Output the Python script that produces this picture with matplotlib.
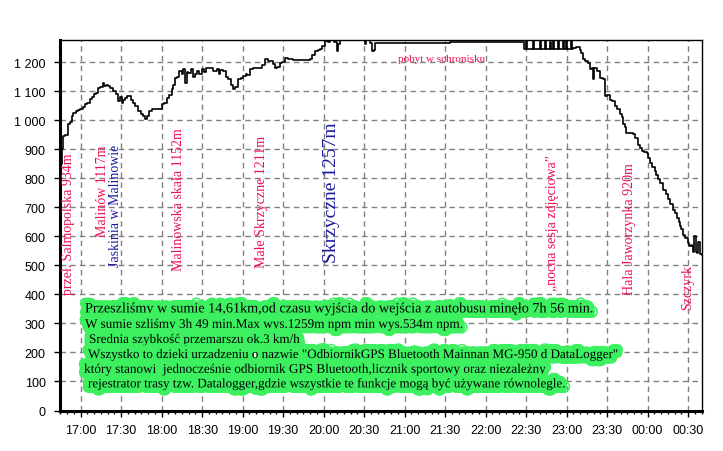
import matplotlib
matplotlib.use("Agg")
import matplotlib.pyplot as plt
import matplotlib.patheffects as pe
from matplotlib.ticker import FixedLocator, MultipleLocator, FuncFormatter

# ---------------- data ----------------
# elevation profile: minutes after 17:00, elevation [m]
profile_min = [
    -15.5, -15.0, -14.6, -14.0, -13.1, -11.5, -9.6, -8.0, -6.7, -5.5, -3.7, -2.0, -0.5, 1.5, 3.2, 5.0,
    6.9, 8.5, 10.1, 11.5, 13.0, 14.5, 16.7, 17.5, 19.0, 20.4, 22.0, 24.1, 25.5, 26.5, 27.9, 29.0,
    30.4, 31.5, 32.8, 34.0, 35.8, 37.5, 39.0, 40.5, 42.7, 44.5, 46.4, 47.5, 48.9, 50.5, 52.6, 55.0,
    57.5, 60.0, 62.0, 63.7, 65.5, 67.4, 68.5, 69.9, 71.5, 72.5, 73.6, 75.0, 76.0, 77.3, 78.5, 79.7,
    81.5, 83.0, 84.7, 86.0, 87.5, 89.6, 91.0, 92.5, 95.8, 98.0, 100.7, 102.5, 103.5, 105.6, 107.5,
    109.5, 111.0, 113.0, 114.5, 116.7, 118.5, 120.4, 122.5, 123.5, 125.4, 128.0, 130.0, 132.8, 134.0,
    136.5, 138.5, 141.5, 142.5, 143.9, 145.5, 147.6, 149.0, 151.3, 153.5, 157.5, 160.0, 162.4, 166.0,
    169.8, 171.5, 173.6, 175.5, 177.3, 179.0, 181.0, 183.0, 185.0, 187.5, 189.6, 191.0, 192.1, 195.0,
    200.0, 205.0, 209.5, 210.6, 211.5, 213.0, 214.5, 215.6, 217.0, 218.0, 219.3, 273.6, 274.0, 327.9,
    328.5, 329.5, 330.1, 331.0, 335.0, 336.0, 340.0, 341.0, 343.7, 344.6, 347.4, 348.2, 349.8, 350.6,
    353.5, 354.4, 357.2, 358.0, 359.7, 360.5, 363.4, 364.2, 364.9, 367.0, 369.9, 371.0, 372.3, 374.0,
    376.0, 377.3, 379.0, 379.7, 380.3, 381.0, 382.5, 384.7, 386.0, 387.1, 388.4, 390.0, 392.1, 394.0,
    395.8, 397.5, 399.5, 401.0, 401.9, 403.0, 404.4, 407.0, 409.3, 411.0, 413.0, 414.5, 415.6, 417.5,
    419.3, 420.5, 421.7, 423.5, 425.4, 426.5, 427.9, 429.5, 431.6, 433.5, 435.3, 437.0, 439.0, 440.0,
    441.5, 443.0, 444.0, 445.0, 446.4, 448.0, 450.1, 451.0, 452.0, 452.7, 453.5, 454.5, 455.1, 455.8,
    456.4, 457.5, 458.5, 460.1,
]
profile_elev = [
    880, 905, 850, 900, 945, 948, 985, 992, 1014, 1025, 1031, 1035, 1039, 1045, 1055, 1060,
    1072, 1080, 1090, 1095, 1111, 1115, 1129, 1118, 1120, 1117, 1110, 1100, 1100, 1090, 1066, 1080,
    1060, 1070, 1077, 1083, 1083, 1070, 1060, 1050, 1031, 1020, 1014, 1005, 1014, 1030, 1037, 1037,
    1039, 1054, 1060, 1077, 1085, 1106, 1120, 1146, 1150, 1170, 1169, 1160, 1175, 1129, 1165, 1163,
    1175, 1150, 1158, 1170, 1160, 1175, 1165, 1180, 1180, 1170, 1175, 1160, 1172, 1169, 1150,
    1140, 1120, 1108, 1115, 1140, 1145, 1152, 1160, 1155, 1175, 1178, 1178, 1180, 1190,
    1209, 1205, 1203, 1195, 1180, 1183, 1198, 1200, 1215, 1210, 1207, 1207, 1207, 1208,
    1211, 1225, 1238, 1240, 1244, 1255, 1272, 1268, 1275, 1270, 1238, 1262, 1276, 1275,
    1275, 1275, 1275, 1262, 1275, 1275, 1265, 1238, 1240, 1266, 1266, 1266, 1268, 1268,
    1245, 1244, 1272, 1244, 1272, 1244, 1274, 1244, 1272, 1244, 1270, 1244, 1274, 1244,
    1272, 1244, 1274, 1244, 1272, 1244, 1274, 1244, 1250, 1252, 1241, 1230, 1209, 1205,
    1198, 1175, 1180, 1140, 1180, 1180, 1170, 1146, 1146, 1140, 1083, 1085, 1071, 1065,
    1048, 1040, 1020, 1010, 985, 975, 956, 955, 951, 940, 916, 905, 893, 890,
    887, 870, 853, 840, 824, 810, 796, 785, 761, 745, 727, 710, 692, 680,
    663, 650, 634, 625, 606, 595, 577, 565, 570, 566, 545, 600, 600, 545,
    542, 580, 540, 537,
]

x_tick_labels = ["17:00", "17:30", "18:00", "18:30", "19:00", "19:30", "20:00", "20:30",
                 "21:00", "21:30", "22:00", "22:30", "23:00", "23:30", "00:00", "00:30"]
y_ticks = [0, 100, 200, 300, 400, 500, 600, 700, 800, 900, 1000, 1100, 1200]

place_names = ["przeł. Salmopolska 934m", "Malinów 1117m", "Jaskinia w Malinowie",
               "Malinowska skała 1152m", "Małe Skrzyczne 1211m", "Skrzyczne 1257m",
               "„nocna sesja zdjęciowa”", "Hala Jaworzynka 920m", "Szczyrk"]
stay_note = "pobyt w schronisku"
summary_lines = [
    "Przeszliśmy w sumie 14,61km,od czasu wyjścia do wejścia z autobusu minęło 7h 56 min.",
    "W sumie szliśmy 3h 49 min.Max wys.1259m npm min wys.534m npm.",
    " Srednia szybkość przemarszu ok.3 km/h",
    " Wszystko to dzięki urządzeniu o nazwie \"OdbiornikGPS Bluetooth Mainnan MG-950 d DataLogger\"",
    "który stanowi  jednocześnie odbiornik GPS Bluetooth,licznik sportowy oraz niezależny",
    " rejestrator trasy tzw. Datalogger,gdzie wszystkie te funkcje mogą być używane równolegle.",
]

# ---------------- layout / style ----------------
RED = "#EE1050"
BLUE = "#1A1AA0"
SERIF = ["Liberation Serif", "DejaVu Serif"]
SANS = ["Liberation Sans Narrow", "Liberation Sans", "DejaVu Sans"]

name_pos = [(-9.4, 645), (15.8, 759), (26.1, 707), (72.1, 728), (134.3, 721),
            (186.1, 755), (349.9, 648), (406.9, 628), (449.9, 428)]
name_col = [RED, RED, BLUE, RED, RED, BLUE, RED, RED, RED]
name_size = [10, 10, 10, 10, 10, 14, 10, 10, 10]

fig = plt.figure(figsize=(7.23, 4.52), dpi=100)
ax = fig.add_axes([0.0823, 0.0896, 0.9705 - 0.0823, 0.9093 - 0.0896])

ax.plot(profile_min, profile_elev, color="black", lw=1.2, drawstyle="steps-post", zorder=3)

ax.set_xlim(-15.7, 460.1)
ax.set_ylim(0, 1276)

ax.xaxis.set_major_locator(FixedLocator([30 * i for i in range(len(x_tick_labels))]))
ax.set_xticklabels(x_tick_labels)
ax.xaxis.set_minor_locator(MultipleLocator(5))
ax.set_yticks(y_ticks)
ax.yaxis.set_major_formatter(FuncFormatter(lambda v, p: f"{int(v):,}".replace(",", " ")))

for lab in ax.get_xticklabels() + ax.get_yticklabels():
    lab.set_family(SANS)
    lab.set_fontsize(9)
ax.tick_params(axis="both", which="major", direction="out", length=4, width=1, pad=6)
ax.tick_params(axis="x", which="minor", direction="out", length=2, width=1)

ax.grid(True, which="major", color="#808080", linestyle=(0, (4, 3)), lw=1)
ax.set_axisbelow(True)

ax.spines["left"].set_linewidth(2.2)
ax.spines["bottom"].set_linewidth(2.2)
ax.spines["top"].set_linewidth(1)
ax.spines["right"].set_linewidth(1)

for name, (px, py), c, s in zip(place_names, name_pos, name_col, name_size):
    ax.text(px, py, name, rotation=90, ha="center", va="center", color=c,
            fontsize=s, family=SERIF, zorder=4)

ax.text(267.6, 1212, stay_note, ha="center", va="center", color=RED, fontsize=8,
        family=SERIF, zorder=4)

line_x = [3.2, 3.2, 6.2, 5.4, 2.5, 5.4]
line_y = [350, 295, 243, 191, 140, 90]
line_size = [10.2, 9.5, 9.4, 9.4, 9.5, 9.4]
glow = [pe.withStroke(linewidth=8, foreground="#3CF060")]
for txt, lx, ly, fs in zip(summary_lines, line_x, line_y, line_size):
    ax.text(lx, ly, txt.strip(), ha="left", va="center", color="black", fontsize=fs,
            family=SERIF, path_effects=glow, zorder=5)

fig.savefig("out.png", dpi=100)
